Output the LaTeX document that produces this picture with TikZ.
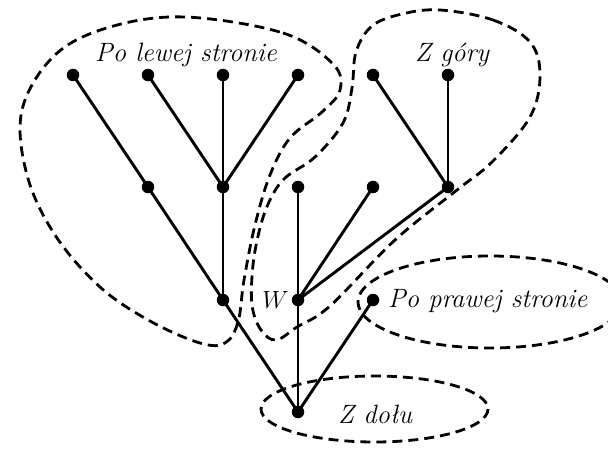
\documentclass[tikz,border=0pt]{standalone}
\begin{document}
\begin{tikzpicture}[x=1pt,y=-1pt,
  vertex/.style={circle,fill=black,inner sep=0pt,minimum size=12.5pt},
  edge/.style={line width=2.9pt},
  region/.style={line width=2.8pt,dash pattern=on 10pt off 6pt},
  lbl/.style={inner sep=0pt,anchor=base west,font=\fontsize{26.5}{31}\selectfont\itshape}]
\useasboundingbox (0,0) rectangle (608,452);

% vertices
\node[vertex] (l1) at (73,75) {};
\node[vertex] (l2) at (148,75) {};
\node[vertex] (l3) at (223,75) {};
\node[vertex] (l4) at (298,75) {};
\node[vertex] (g1) at (373,75) {};
\node[vertex] (g2) at (448,75) {};
\node[vertex] (m1) at (148,187) {};
\node[vertex] (m2) at (223,187) {};
\node[vertex] (m3) at (298,187) {};
\node[vertex] (m4) at (373,187) {};
\node[vertex] (m5) at (448,187) {};
\node[vertex] (a)  at (223,300) {};
\node[vertex] (w)  at (298,300) {};
\node[vertex] (r)  at (373,300) {};
\node[vertex] (root) at (298,412) {};

% tree edges
\draw[edge] (l1.center) -- (m1.center) -- (a.center) -- (root.center);
\draw[edge] (l2.center) -- (m2.center);
\draw[edge] (l3.center) -- (m2.center);
\draw[edge] (l4.center) -- (m2.center);
\draw[edge] (m2.center) -- (a.center);
\draw[edge] (w.center) -- (root.center);
\draw[edge] (r.center) -- (root.center);
\draw[edge] (m3.center) -- (w.center);
\draw[edge] (m4.center) -- (w.center);
\draw[edge] (m5.center) -- (w.center);
\draw[edge] (g1.center) -- (m5.center);
\draw[edge] (g2.center) -- (m5.center);

% dashed regions
\draw[region] plot[smooth cycle,tension=0.6] coordinates {
  (185,17) (283,33) (333,64) (340,90) (322,112) (290,138) (270,175)
  (255,225) (244,280) (238,322) (225,343) (200,343) (150,321) (100,287)
  (55,235) (27,175) (22,110) (55,55) (110,27)};
\draw[region] plot[smooth cycle,tension=0.6] coordinates {
  (440,10) (493,20) (530,42) (540,75) (530,117) (492,162) (457,190)
  (395,240) (330,306) (297,327) (276,340) (261,330) (252,305) (253,265)
  (260,228) (270,200) (285,178) (315,157) (343,123) (352,88) (356,52)
  (372,26) (402,14)};
\draw[region] (490,302) ellipse [x radius=132, y radius=46];
\draw[region] (374.5,409) ellipse [x radius=113.5, y radius=33];

% labels
\node[lbl] (tl) at (95,62) {Po lewej stronie};
\node[lbl] (tg) at (415,62) {Z góry};
\node[lbl] (tp) at (388,307) {Po prawej stronie};
\node[lbl] (td) at (338,423) {Z dołu};
\node[inner sep=0pt,anchor=base east,font=\fontsize{31}{36}\selectfont] (tw) at (289,308) {$W$};
\end{tikzpicture}
\end{document}
